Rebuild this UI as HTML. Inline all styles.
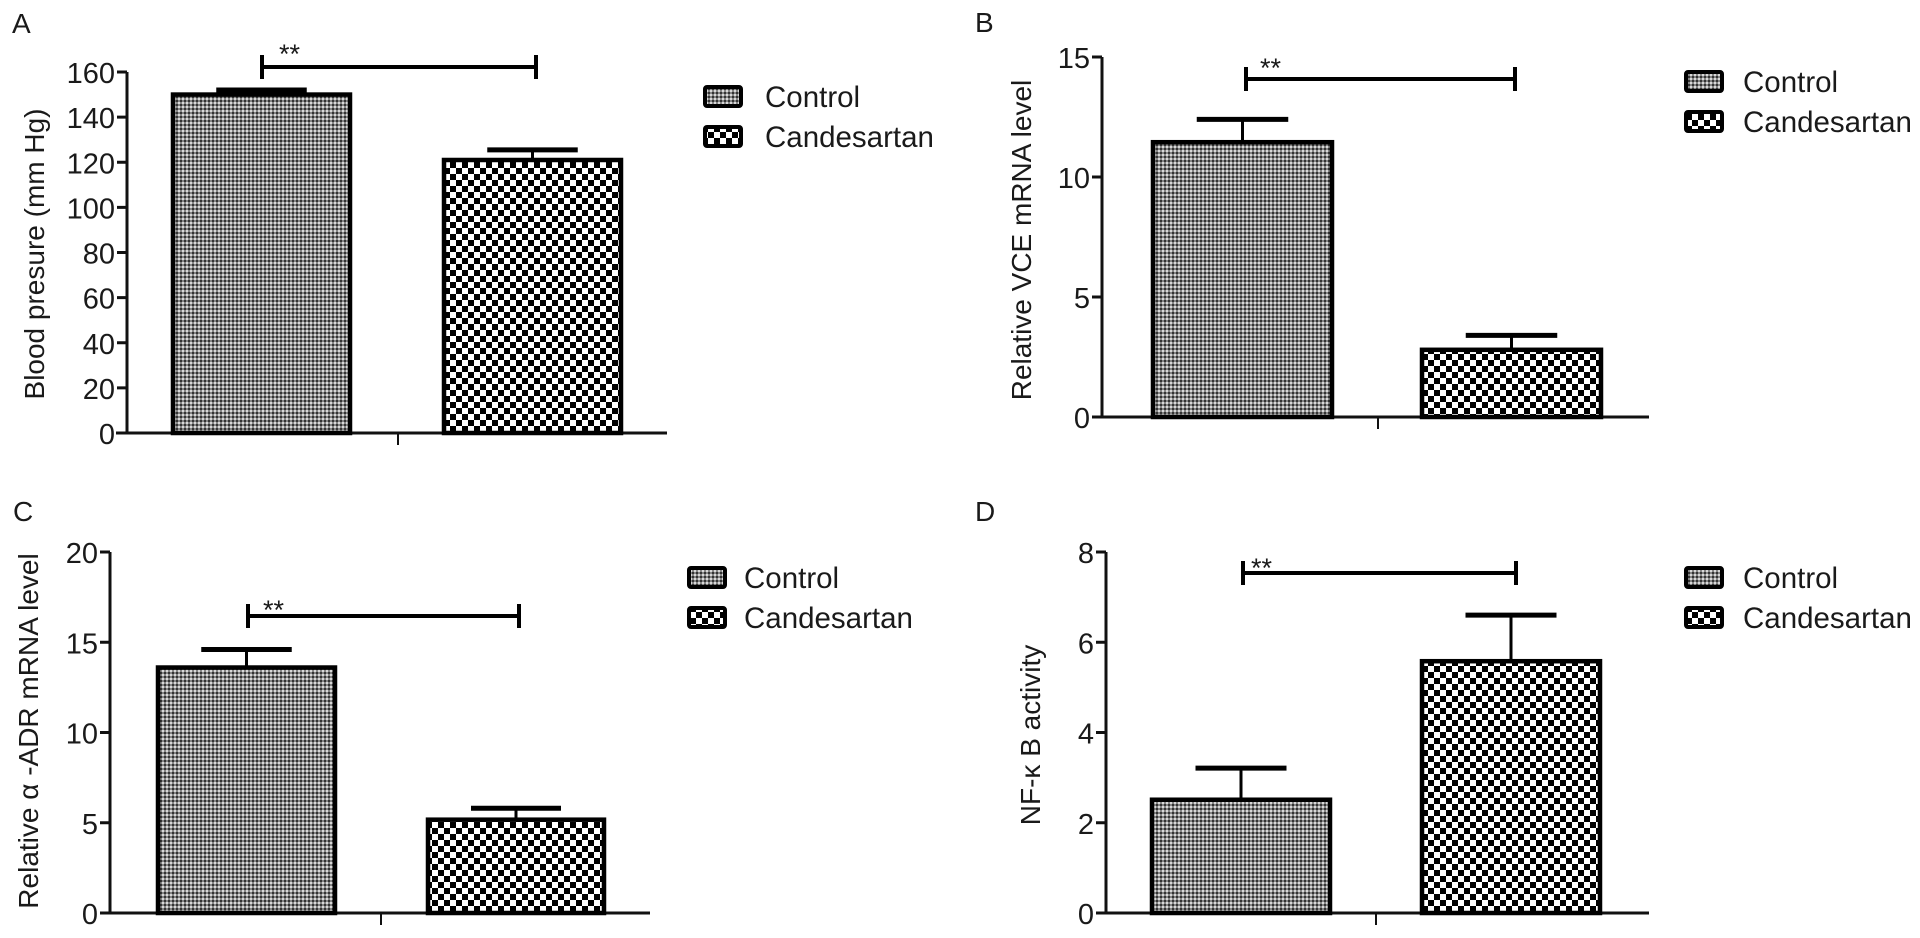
<!DOCTYPE html>
<html><head><meta charset="utf-8">
<style>
html,body{margin:0;padding:0;background:#fff;}
svg{display:block;}
text{font-family:"Liberation Sans",Arial,sans-serif;fill:#1a1a1a;}
</style></head>
<body>
<svg id="fig" width="1920" height="938" viewBox="0 0 1920 938" xmlns="http://www.w3.org/2000/svg">
<defs>
<pattern id="fine" patternUnits="userSpaceOnUse" width="4" height="4">
<rect width="4" height="4" fill="#858585"/>
<rect x="0" y="0" width="2" height="2" fill="#333"/>
<rect x="2" y="2" width="2" height="2" fill="#d8d8d8"/>
</pattern>
<pattern id="coarse" patternUnits="userSpaceOnUse" width="12" height="12">
<rect width="12" height="12" fill="#fff"/>
<rect x="0" y="0" width="6" height="6" fill="#000"/>
<rect x="6" y="6" width="6" height="6" fill="#000"/>
</pattern>
</defs>
</svg>
<script>
const groups = ["Control", "Candesartan"];
const valuesA = [150, 121];
const errorsA = [2, 4.5];
const ticksA = [0, 20, 40, 60, 80, 100, 120, 140, 160];
const valuesB = [11.45, 2.8];
const errorsB = [0.95, 0.6];
const ticksB = [0, 5, 10, 15];
const valuesC = [13.6, 5.17];
const errorsC = [1.0, 0.63];
const ticksC = [0, 5, 10, 15, 20];
const valuesD = [2.51, 5.58];
const errorsD = [0.7, 1.02];
const ticksD = [0, 2, 4, 6, 8];

const NS = "http://www.w3.org/2000/svg";
const svg = document.getElementById("fig");
function mk(tag, attrs, parent) {
  const e = document.createElementNS(NS, tag);
  for (const k in attrs) e.setAttribute(k, attrs[k]);
  (parent || svg).appendChild(e);
  return e;
}

const layouts = [
  {id:"a", letter:"A", lx:12, ly:33, ax:127, y0:433, ytop:72, max:160, xl:116, xr:667,
   bars:[[171,352],[442,623]], center:398, br:[262,536,67], star:[279,52],
   leg:[703,85,765], title:"Blood presure (mm Hg)", tx:34, ty:254,
   vals:valuesA, errs:errorsA, ticks:ticksA},
  {id:"b", letter:"B", lx:975, ly:32, ax:1102, y0:417, ytop:57, max:15, xl:1096, xr:1649,
   bars:[[1151,1334],[1420,1603]], center:1378, br:[1246,1515,79], star:[1260,66],
   leg:[1684,70,1743], title:"Relative VCE mRNA level", tx:1021, ty:240,
   vals:valuesB, errs:errorsB, ticks:ticksB},
  {id:"c", letter:"C", lx:13, ly:521, ax:110, y0:913, ytop:552, max:20, xl:101, xr:650,
   bars:[[156,337],[426,606]], center:381, br:[248,519,616], star:[263,608],
   leg:[687,566,744], title:"Relative \u03b1 -ADR mRNA level", tx:28, ty:731,
   vals:valuesC, errs:errorsC, ticks:ticksC},
  {id:"d", letter:"D", lx:975, ly:521, ax:1106, y0:913, ytop:552, max:8, xl:1096, xr:1649,
   bars:[[1150,1332],[1420,1602]], center:1376, br:[1243,1516,573], star:[1251,566],
   leg:[1684,566,1743], title:"NF-\u03ba B activity", tx:1030, ty:735,
   vals:valuesD, errs:errorsD, ticks:ticksD}
];
const fills = ["url(#fine)", "url(#coarse)"];

layouts.forEach(L => {
  const g = mk("g", {});
  
  
  const yS = v => L.y0 - (L.y0 - L.ytop) * v / L.max;

  const lt = mk("text", {x:L.lx, y:L.ly, "font-size":28}, g);
  lt.textContent = L.letter;
  
  

  const yax = mk("line", {x1:L.ax, y1:L.ytop, x2:L.ax, y2:L.y0, stroke:"#111", "stroke-width":3}, g);
  
  
  const xax = mk("line", {x1:L.xl, y1:L.y0, x2:L.xr, y2:L.y0, stroke:"#111", "stroke-width":3}, g);
  
  
  const ct = mk("line", {x1:L.center, y1:L.y0, x2:L.center, y2:L.y0 + 12, stroke:"#111", "stroke-width":2}, g);
  
  

  L.ticks.forEach(t => {
    const y = yS(t);
    const tk = mk("line", {x1:L.ax - 10, y1:y, x2:L.ax, y2:y, stroke:"#111", "stroke-width":3}, g);
    
    
    const tl = mk("text", {x:L.ax - 12, y:y + 11, "font-size":29, "text-anchor":"end"}, g);
    tl.textContent = t;
    
    
  });

  const tt = mk("text", {x:0, y:0, "font-size":28, "text-anchor":"middle", transform:`translate(${L.tx + 10},${L.ty}) rotate(-90)`}, g);
  tt.textContent = L.title;
  
  

  L.vals.forEach((v, i) => {
    const [x1, x2] = L.bars[i];
    const top = yS(v);
    const b = mk("rect", {x:x1 + 2, y:top, width:x2 - x1 - 4, height:L.y0 - top, fill:fills[i], stroke:"#000", "stroke-width":4.5}, g);
    
    
    const cx = (x1 + x2) / 2, ey = yS(v + L.errs[i]), hw = (x2 - x1) / 4;
    const ev = mk("line", {x1:cx, y1:top, x2:cx, y2:ey, stroke:"#000", "stroke-width":3}, g);
    
    
    const ec = mk("line", {x1:cx - hw, y1:ey, x2:cx + hw, y2:ey, stroke:"#000", "stroke-width":5}, g);
    
    
  });

  const [bx1, bx2, by] = L.br;
  const bl = mk("path", {d:`M${bx1},${by - 12}V${by + 12}M${bx1},${by}H${bx2}M${bx2},${by - 12}V${by + 12}`, fill:"none", stroke:"#000", "stroke-width":4}, g);
  
  
  const st = mk("text", {x:L.star[0], y:L.star[1] + 11, "font-size":27}, g);
  st.textContent = "**";
  
  

  groups.forEach((name, i) => {
    const [lx, ly, tx] = L.leg;
    const yy = ly + i * 40;
    const sw = mk("rect", {x:lx + 2, y:yy + 2, width:36, height:19, rx:2, fill:fills[i], stroke:"#000", "stroke-width":4}, g);
    
    
    const lx2 = mk("text", {x:tx, y:yy + 22, "font-size":29.5}, g);
    lx2.textContent = name;
    
    
  });
});
</script>
</body></html>
